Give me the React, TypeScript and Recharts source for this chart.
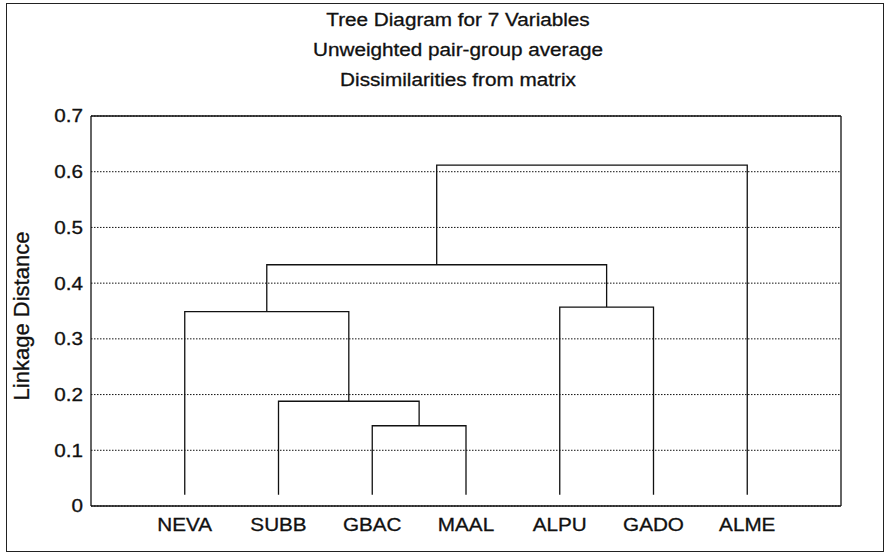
import { LineChart, Line, XAxis, YAxis, CartesianGrid } from "recharts";

const variables = ["NEVA", "SUBB", "GBAC", "MAAL", "ALPU", "GADO", "ALME"];
// each merge joins two nodes (0-6 are leaves, 7+ are earlier merges)
const mergeLeft = [2, 1, 0, 4, 9, 11];
const mergeRight = [3, 7, 8, 5, 10, 6];
const mergeHeight = [0.144, 0.188, 0.349, 0.357, 0.433, 0.612];
const leafBase = 0.02;
const yTicks = [0, 0.1, 0.2, 0.3, 0.4, 0.5, 0.6, 0.7];
const catTicks = [1, 2, 3, 4, 5, 6, 7];
const minorTicks = Array.from({ length: 36 }, (_, i) => +(i * 0.02).toFixed(2));
const titleLines = [
  "Tree Diagram for 7 Variables",
  "Unweighted pair-group average",
  "Dissimilarities from matrix",
];

// walk the merges to get the U-shaped links
const nodeX: number[] = variables.map((_, i) => i + 1);
const nodeH: number[] = variables.map(() => leafBase);
const links = mergeLeft.map((a, k) => {
  const b = mergeRight[k];
  const h = mergeHeight[k];
  const seg = [
    { x: nodeX[a], y: nodeH[a] },
    { x: nodeX[a], y: h },
    { x: nodeX[b], y: h },
    { x: nodeX[b], y: nodeH[b] },
  ];
  nodeX.push((nodeX[a] + nodeX[b]) / 2);
  nodeH.push(h);
  return seg;
});

const FONT = "'Liberation Sans', Arial, sans-serif";
const INK = "#111";
const STRETCH = 1.15;
const fmt = (v: number) => (v === 0 ? "0" : v.toFixed(1));

// the scan has wide-looking lettering, so labels get a horizontal stretch
const WideTick = ({ x, y, payload, anchor, dy, format }: any) => (
  <g transform={`translate(${x},${y}) scale(${STRETCH},1)`}>
    <text
      textAnchor={anchor} dy={dy} fill={INK} stroke={INK} strokeWidth={0.3}
      fontSize={18} fontFamily={FONT}
    >
      {format(payload.value)}
    </text>
  </g>
);

export default function App() {
  return (
    <div style={{ position: "relative", width: 886, height: 555, background: "#fff", fontFamily: FONT }}>
      <style>{`body{margin:0}`}</style>
      <div
        style={{
          position: "absolute", left: 6, top: 3, width: 876, height: 547,
          border: "1.5px solid #222",
        }}
      />
      {titleLines.map((t, i) => (
        <div
          key={t}
          style={{
            position: "absolute", left: 258, width: 400, top: 10 + i * 30, lineHeight: "20px",
            textAlign: "center", fontSize: 18, color: INK, transform: `scaleX(${STRETCH})`,
            WebkitTextStroke: "0.3px #111",
          }}
        >
          {t}
        </div>
      ))}
      <div
        style={{
          position: "absolute", left: 22, top: 316, transform: "translate(-50%, -50%) rotate(-90deg)",
          whiteSpace: "nowrap", fontSize: 22, color: INK, WebkitTextStroke: "0.3px #111",
        }}
      >
        Linkage Distance
      </div>
      <LineChart
        width={886}
        height={555}
        margin={{ top: 116, right: 0, bottom: 0, left: 0 }}
        style={{ position: "absolute", left: 0, top: 0 }}
      >
        <CartesianGrid horizontal vertical={false} stroke={INK} strokeDasharray="1.5 1.5" strokeWidth={1} />
        <XAxis
          type="number" dataKey="x" domain={[0, 8]} ticks={catTicks} height={49}
          tick={<WideTick anchor="middle" dy="0.71em" format={(v: number) => variables[v - 1]} />}
          tickLine={false} tickSize={0} tickMargin={12}
          axisLine={{ stroke: INK, strokeWidth: 1.3 }}
        />
        <XAxis
          xAxisId="bottomTicks" type="number" domain={[0, 8]} ticks={catTicks} mirror
          tick={false} tickSize={3} axisLine={false} tickLine={{ stroke: INK }}
        />
        <XAxis
          xAxisId="top" orientation="top" type="number" domain={[0, 8]} ticks={catTicks} mirror
          tick={false} tickSize={3} tickLine={{ stroke: INK }}
          axisLine={{ stroke: INK, strokeWidth: 1.3 }}
        />
        <YAxis
          type="number" domain={[0, 0.7]} ticks={yTicks} width={91}
          tick={<WideTick anchor="end" dy="0.355em" format={fmt} />}
          tickLine={false} tickSize={0} tickMargin={8}
          axisLine={{ stroke: INK, strokeWidth: 1.3 }}
        />
        <YAxis
          yAxisId="minor" type="number" domain={[0, 0.7]} ticks={minorTicks} mirror
          tick={false} tickSize={3} axisLine={false} tickLine={{ stroke: INK }}
        />
        <YAxis
          yAxisId="right" orientation="right" type="number" domain={[0, 0.7]} ticks={yTicks} width={45}
          tick={<WideTick anchor="start" dy="0.355em" format={fmt} />}
          tickLine={false} tickSize={0} tickMargin={11}
          axisLine={{ stroke: INK, strokeWidth: 1.3 }}
        />
        {links.map((seg, i) => (
          <Line
            key={i}
            data={seg}
            dataKey="y"
            type="linear"
            stroke={INK}
            strokeWidth={1.3}
            dot={false}
            activeDot={false}
            isAnimationActive={false}
          />
        ))}
      </LineChart>
    </div>
  );
}
